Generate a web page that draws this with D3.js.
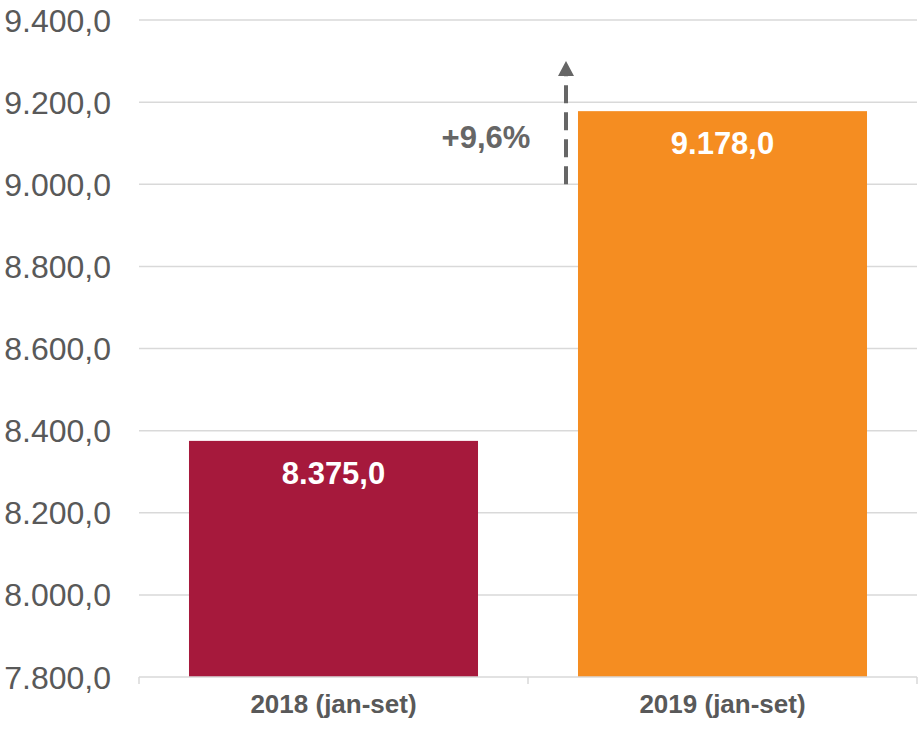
<!DOCTYPE html>
<html>
<head>
<meta charset="utf-8">
<script src="https://cdn.jsdelivr.net/npm/d3@7"></script>
<style>
  body { margin: 0; background: #fff; }
  svg { display: block; font-family: "Liberation Sans", Arial, sans-serif; }
</style>
</head>
<body>
<div id="chart"></div>
<script>
// data
const categories = ["2018 (jan-set)", "2019 (jan-set)"];
const values = [8375.0, 9178.0];
const barColors = ["#a6193c", "#f58d21"];
const yTicks = [7800, 8000, 8200, 8400, 8600, 8800, 9000, 9200, 9400];
const growthLabel = "+9,6%";

const width = 922, height = 729;
const margin = { top: 20, right: 5, bottom: 52, left: 139 };

const svg = d3.select("#chart").append("svg")
  .attr("width", width)
  .attr("height", height);

const x = d3.scaleBand()
  .domain(categories)
  .range([margin.left, width - margin.right])
  .paddingInner(0.257)
  .paddingOuter(0.1285);

const y = d3.scaleLinear()
  .domain([7800, 9400])
  .range([height - margin.bottom, margin.top]);

// pt-BR number format
const fmt = (v) => {
  const s = v.toFixed(1).split(".");
  return s[0].replace(/\B(?=(\d{3})+(?!\d))/g, ".") + "," + s[1];
};

// gridlines
svg.append("g")
  .selectAll("line")
  .data(yTicks.slice(1))
  .join("line")
  .attr("x1", margin.left)
  .attr("x2", width - margin.right)
  .attr("y1", (d) => y(d))
  .attr("y2", (d) => y(d))
  .attr("stroke", "#d9d9d9")
  .attr("stroke-width", 1.5);

// y labels
svg.append("g")
  .selectAll("text")
  .data(yTicks)
  .join("text")
  .attr("x", 111)
  .attr("y", (d) => y(d))
  .attr("dy", "0.36em")
  .attr("text-anchor", "end")
  .attr("font-size", 32)
  .attr("fill", "#595959")
  .text(fmt);

// bars
svg.append("g")
  .selectAll("rect")
  .data(values)
  .join("rect")
  .attr("x", (d, i) => x(categories[i]))
  .attr("width", x.bandwidth())
  .attr("y", (d) => y(d))
  .attr("height", (d) => y(7800) - y(d))
  .attr("fill", (d, i) => barColors[i]);

// bar value labels
svg.append("g")
  .selectAll("text")
  .data(values)
  .join("text")
  .attr("x", (d, i) => x(categories[i]) + x.bandwidth() / 2)
  .attr("y", (d) => y(d) + 43)
  .attr("text-anchor", "middle")
  .attr("font-size", 31)
  .attr("font-weight", "bold")
  .attr("fill", "#fff")
  .text(fmt);

// x axis line + ticks
const axisY = y(7800);
const step = x.step();
const tickXs = [margin.left, margin.left + step, width - margin.right];
svg.append("line")
  .attr("x1", margin.left)
  .attr("x2", width - margin.right)
  .attr("y1", axisY)
  .attr("y2", axisY)
  .attr("stroke", "#d9d9d9")
  .attr("stroke-width", 1.5);
svg.append("g")
  .selectAll("line")
  .data(tickXs)
  .join("line")
  .attr("x1", (d) => d)
  .attr("x2", (d) => d)
  .attr("y1", axisY)
  .attr("y2", axisY + 7)
  .attr("stroke", "#d9d9d9")
  .attr("stroke-width", 1.5);

// category labels
svg.append("g")
  .selectAll("text")
  .data(categories)
  .join("text")
  .attr("x", (d) => x(d) + x.bandwidth() / 2)
  .attr("y", 713)
  .attr("text-anchor", "middle")
  .attr("font-size", 26)
  .attr("font-weight", "bold")
  .attr("fill", "#595959")
  .text((d) => d);

// growth arrow
const arrowX = 566;
svg.append("line")
  .attr("x1", arrowX)
  .attr("x2", arrowX)
  .attr("y1", y(9000))
  .attr("y2", y(9300) + 15)
  .attr("stroke", "#666")
  .attr("stroke-width", 4)
  .attr("stroke-dasharray", "18,9");
svg.append("path")
  .attr("d", `M${arrowX},${y(9300)} l-8,15 l16,0 Z`)
  .attr("fill", "#666");

svg.append("text")
  .attr("x", 486)
  .attr("y", 148)
  .attr("text-anchor", "middle")
  .attr("font-size", 31)
  .attr("font-weight", "bold")
  .attr("fill", "#666")
  .text(growthLabel);
</script>
</body>
</html>
